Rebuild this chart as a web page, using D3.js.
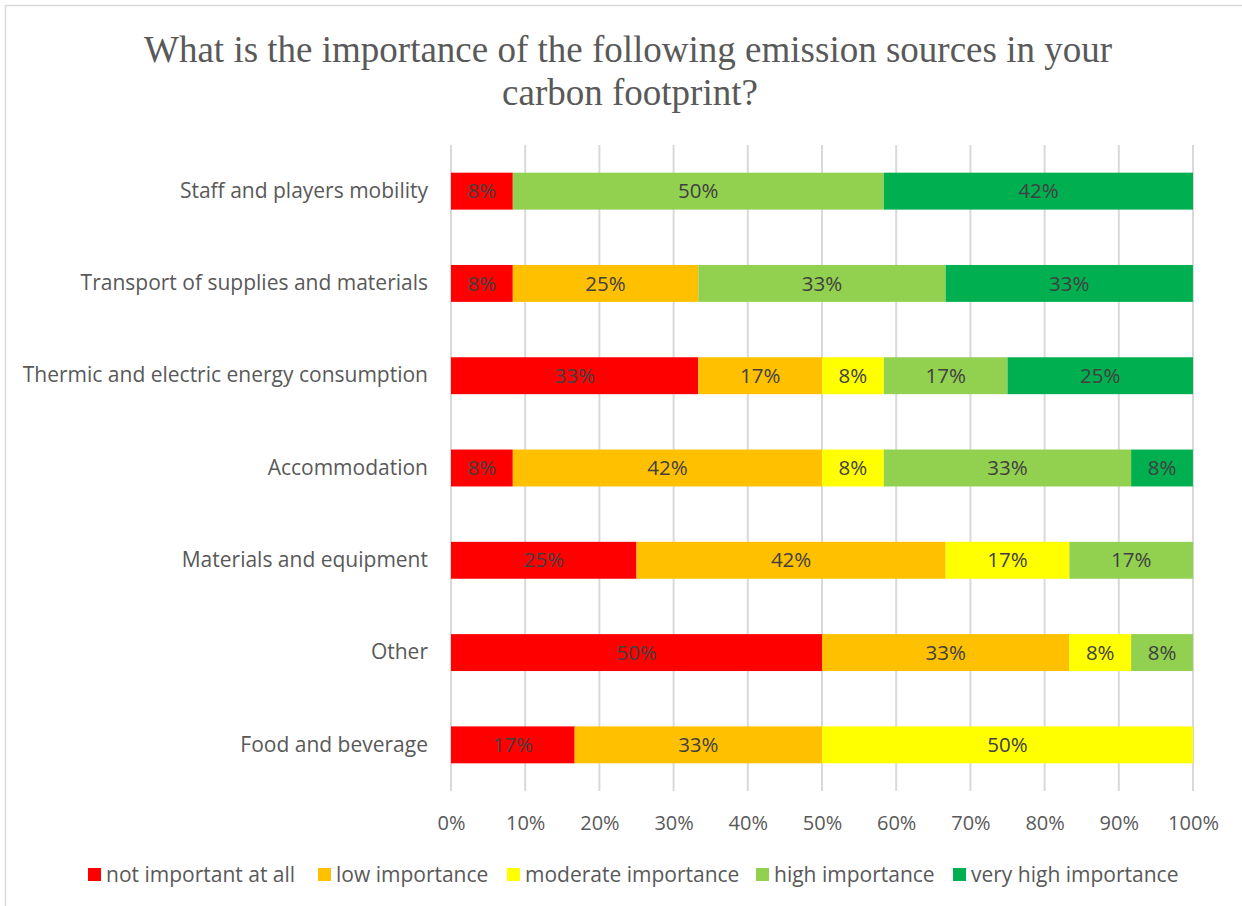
<!DOCTYPE html>
<html>
<head>
<meta charset="utf-8">
<script src="https://cdn.jsdelivr.net/npm/d3@7"></script>
<style>
  html, body { margin: 0; padding: 0; background: #fff; }
  svg { display: block; }
</style>
</head>
<body>
<svg id="chart" width="1242" height="906"></svg>
<script>
// Survey answers (share of respondents, %) for each emission source
const categories = [
  "Staff and players mobility",
  "Transport of supplies and materials",
  "Thermic and electric energy consumption",
  "Accommodation",
  "Materials and equipment",
  "Other",
  "Food and beverage"
];
const seriesNames = [
  "not important at all",
  "low importance",
  "moderate importance",
  "high importance",
  "very high importance"
];
const notImportant = [8.33, 8.33, 33.33, 8.33, 25, 50, 16.67];
const lowImportance = [0, 25, 16.67, 41.67, 41.67, 33.33, 33.33];
const moderateImportance = [0, 0, 8.33, 8.33, 16.67, 8.33, 50];
const highImportance = [50, 33.33, 16.67, 33.33, 16.67, 8.33, 0];
const veryHighImportance = [41.67, 33.33, 25, 8.33, 0, 0, 0];
const xTicks = [0, 10, 20, 30, 40, 50, 60, 70, 80, 90, 100];
const colors = ["#FF0000", "#FFC000", "#FFFF00", "#92D050", "#00B050"];

const seriesValues = [notImportant, lowImportance, moderateImportance, highImportance, veryHighImportance];
const rows = categories.map((c, i) => {
  const r = { category: c };
  seriesNames.forEach((s, j) => { r[s] = seriesValues[j][i]; });
  return r;
});
const stacked = d3.stack().keys(seriesNames)(rows);

const svg = d3.select("#chart");
const sansFont = "'Open Sans', sans-serif";
const fs = 21;

// chart frame
svg.append("rect")
  .attr("x", 5.5).attr("y", 5.5)
  .attr("width", 1260).attr("height", 920)
  .attr("fill", "#fff").attr("stroke", "#D9D9D9").attr("stroke-width", 1.5);

// title
const title = svg.append("text")
  .attr("x", 628).attr("y", 62)
  .attr("text-anchor", "middle")
  .attr("font-family", "'Liberation Serif', 'Times New Roman', serif")
  .attr("font-size", 37)
  .attr("fill", "#595959");
title.append("tspan").attr("x", 628).text("What is the importance of the following emission sources in your");
title.append("tspan").attr("x", 630).attr("dy", 43).text("carbon footprint?");

const x = d3.scaleLinear().domain([0, 100]).range([451, 1193]);
const y = d3.scaleBand().domain(categories).range([145, 791]).paddingInner(0.6).paddingOuter(0.3);

// vertical gridlines
svg.append("g")
  .selectAll("line")
  .data(xTicks)
  .join("line")
  .attr("x1", d => x(d)).attr("x2", d => x(d))
  .attr("y1", 145).attr("y2", 791)
  .attr("stroke", "#D9D9D9").attr("stroke-width", 2);

// x axis tick labels
const xAxis = d3.axisBottom(x).tickValues(xTicks).tickSize(0).tickFormat(d => d + "%");
const gx = svg.append("g").attr("transform", "translate(0,830)").call(xAxis);
gx.select(".domain").remove();
gx.selectAll("text")
  .attr("font-family", sansFont).attr("font-size", 20)
  .attr("fill", "#595959").attr("y", 0).attr("dy", 0);

// category labels
const yAxis = d3.axisLeft(y).tickSize(0).tickPadding(0);
const gy = svg.append("g").attr("transform", "translate(428,0)").call(yAxis);
gy.select(".domain").remove();
gy.selectAll("text")
  .attr("font-family", sansFont).attr("font-size", fs)
  .attr("fill", "#595959");

// stacked bars
const layers = svg.append("g")
  .selectAll("g")
  .data(stacked)
  .join("g")
  .attr("fill", (d, i) => colors[i]);

layers.selectAll("rect")
  .data(d => d.map(v => ({ v, cat: v.data.category })))
  .join("rect")
  .attr("x", d => x(d.v[0]))
  .attr("y", d => y(d.cat))
  .attr("width", d => x(d.v[1]) - x(d.v[0]))
  .attr("height", y.bandwidth());

// value labels inside segments
layers.selectAll("text")
  .data(d => d.map(v => ({ v, cat: v.data.category, val: v[1] - v[0] })).filter(d => d.val > 0))
  .join("text")
  .attr("x", d => (x(d.v[0]) + x(d.v[1])) / 2)
  .attr("y", d => y(d.cat) + y.bandwidth() / 2)
  .attr("dy", "0.35em")
  .attr("text-anchor", "middle")
  .attr("font-family", sansFont).attr("font-size", 20.5)
  .attr("fill", "#404040")
  .text(d => d3.format(".0f")(d.val) + "%");

// legend
const legendX = [88, 318, 507, 756, 953];
const legend = svg.append("g")
  .selectAll("g")
  .data(seriesNames)
  .join("g")
  .attr("transform", (d, i) => `translate(${legendX[i]},868)`);
legend.append("rect")
  .attr("width", 13).attr("height", 13)
  .attr("fill", (d, i) => colors[i]);
legend.append("text")
  .attr("x", 18).attr("y", 6.5).attr("dy", "0.35em")
  .attr("font-family", sansFont).attr("font-size", fs)
  .attr("fill", "#595959")
  .text(d => d);
</script>
</body>
</html>
